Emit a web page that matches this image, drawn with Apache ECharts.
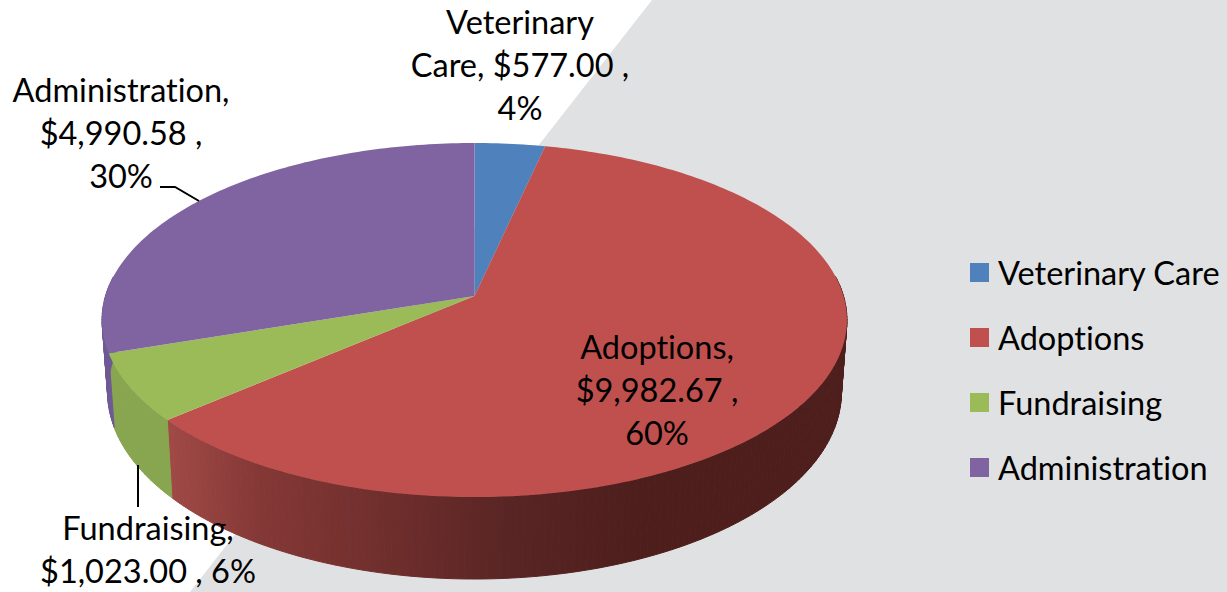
<!DOCTYPE html>
<html>
<head>
    <meta charset="utf-8">
    <title>Expenses pie</title>
    <script src="https://cdn.jsdelivr.net/npm/echarts@6/dist/echarts.min.js"></script>
</head>
<style>
    html, body { margin: 0; padding: 0; background: #fff; overflow: hidden; }
    #main text { font-variant-ligatures: none !important; }
</style>
<body>
<div id="main" style="width: 1227px; height: 592px;"></div>
<script>
const categories = ['Veterinary Care', 'Adoptions', 'Fundraising', 'Administration'];
const amounts = [577.00, 9982.67, 1023.00, 4990.58];
const labelTexts = [
    'Veterinary\nCare, $577.00 ,\n4%',
    'Adoptions,\n$9,982.67 ,\n60%',
    'Fundraising,\n$1,023.00 , 6%',
    'Administration,\n$4,990.58 ,\n30%'
];

const topColors = ['#4f81bd', '#c0504d', '#9bbb59', '#8064a2'];
const labelPos = [[520, 64], [657, 389], [148, 549], [121, 132]];
const leaders = [null, null, [[138, 465], [138, 507]], [[160, 187], [175, 187], [199, 201]]];

const total = amounts.reduce((a, b) => a + b, 0);
const FONT = 'Lato, sans-serif';

// pie tilt: circle -> ellipse with the apex pushed up, like excel's 3d pie
const cx = 474.5, persp = -0.1356, yA = 133.6, yB = 296, xD = 369;
const depth = 70.9, shrink = 0.985;

function topPoint(frac) {
    const t = frac * Math.PI * 2;
    const u = Math.sin(t), v = -Math.cos(t);
    const w = 1 + persp * v;
    return [cx + xD * u / w, (yA * v + yB) / w];
}

function bottomPoint(frac) {
    const t = frac * Math.PI * 2;
    const v = -Math.cos(t);
    const p = topPoint(frac);
    return [cx + (p[0] - cx) * shrink, p[1] + depth / (1 + persp * v)];
}

function arcFractions(a, b) {
    const n = Math.max(8, Math.ceil((b - a) * 360));
    const out = [];
    for (let i = 0; i <= n; i++) out.push(a + (b - a) * i / n);
    return out;
}

const sideColors = [
    '#3f6797',
    {
        type: 'linear', global: true, x: 165, y: 0, x2: 640, y2: 0,
        colorStops: [
            { offset: 0, color: '#a24a47' },
            { offset: 0.2, color: '#843836' },
            { offset: 0.5, color: '#6c2d2b' },
            { offset: 0.72, color: '#592524' },
            { offset: 1, color: '#4d1e1c' }
        ]
    },
    '#88a54f',
    '#6e5a94'
];

let myChart = echarts.init(document.getElementById('main'), null, { renderer: 'svg' });

let running = 0;
const series = categories.map((name, i) => {
    const start = running / total;
    running += amounts[i];
    return {
        type: 'custom',
        name: name,
        coordinateSystem: 'none',
        itemStyle: { color: topColors[i] },
        data: [[start, amounts[i] / total]],
        renderItem: (params, api) => {
            const a = api.value(0), b = a + api.value(1);
            const fracs = arcFractions(a, b);
            const children = [];
            // side wall as strips, back half is hidden so skip it
            for (let k = 0; k < fracs.length - 1; k++) {
                if (Math.cos(fracs[k] * Math.PI * 2) > 0.1 && Math.cos(fracs[k + 1] * Math.PI * 2) > 0.1) continue;
                children.push({
                    type: 'polygon', z2: 1,
                    shape: { points: [topPoint(fracs[k]), topPoint(fracs[k + 1]), bottomPoint(fracs[k + 1]), bottomPoint(fracs[k])] },
                    style: { fill: sideColors[i], stroke: sideColors[i], lineWidth: 1 }
                });
            }
            children.push({
                type: 'polygon', z2: 2,
                shape: { points: [[cx, yB]].concat(fracs.map(topPoint)) },
                style: { fill: topColors[i] }
            });
            children.push({
                type: 'text', z2: 5, x: labelPos[i][0], y: labelPos[i][1],
                style: {
                    text: labelTexts[i], fill: '#000', font: '32.5px ' + FONT,
                    align: 'center', verticalAlign: 'middle', lineHeight: 43
                }
            });
            if (leaders[i]) {
                children.push({
                    type: 'polyline', z2: 4,
                    shape: { points: leaders[i] },
                    style: { fill: null, stroke: '#000', lineWidth: 2 }
                });
            }
            return { type: 'group', children: children };
        }
    };
});

myChart.setOption({
    animation: false,
    backgroundColor: '#fff',
    graphic: [{
        type: 'polygon', z: -1, silent: true,
        shape: { points: [[652, 0], [1227, 0], [1227, 592], [190, 592]] },
        style: { fill: '#e0e1e3' }
    }],
    legend: {
        orient: 'vertical',
        left: 970,
        top: 256,
        padding: 0,
        itemWidth: 19,
        itemHeight: 19,
        itemGap: 32,
        icon: 'rect',
        data: categories,
        textStyle: { color: '#000', fontFamily: FONT, fontSize: 32.5, lineHeight: 32, padding: [0, 0, 0, 4] }
    },
    series: series
});
</script>
</body>
</html>
